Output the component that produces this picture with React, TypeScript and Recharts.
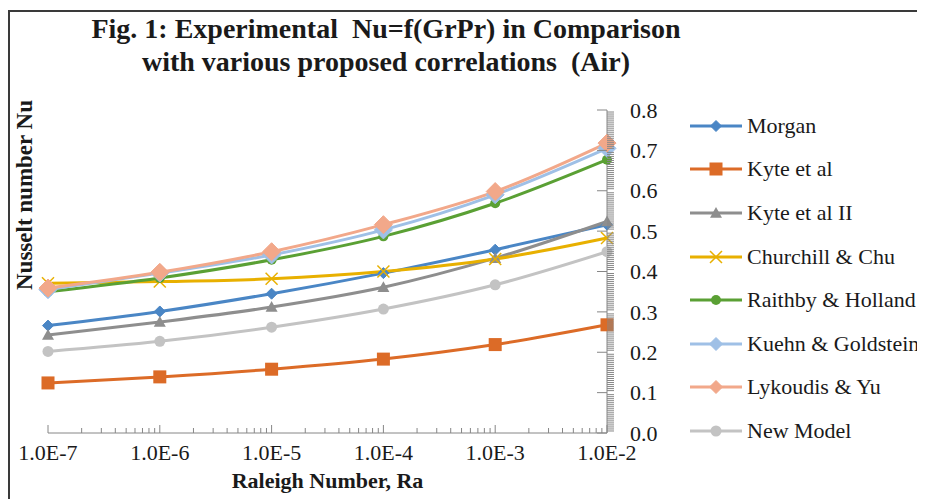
import React from "react";
import { LineChart, Line, XAxis, YAxis } from "recharts";

const raleigh = [1e-7, 1e-6, 1e-5, 1e-4, 1e-3, 1e-2];
const xTickLabels = ["1.0E-7", "1.0E-6", "1.0E-5", "1.0E-4", "1.0E-3", "1.0E-2"];

const morgan = [0.266, 0.301, 0.345, 0.396, 0.454, 0.516];
const kyte = [0.124, 0.139, 0.158, 0.183, 0.219, 0.268];
const kyte2 = [0.243, 0.275, 0.312, 0.361, 0.433, 0.524];
const churchill = [0.371, 0.375, 0.382, 0.4, 0.431, 0.483];
const raithby = [0.35, 0.384, 0.429, 0.487, 0.569, 0.677];
const kuehn = [0.355, 0.396, 0.441, 0.503, 0.59, 0.705];
const lykoudis = [0.359, 0.398, 0.449, 0.516, 0.598, 0.718];
const newModel = [0.202, 0.227, 0.262, 0.307, 0.367, 0.449];

const yTickLabels = ["0.0", "0.1", "0.2", "0.3", "0.4", "0.5", "0.6", "0.7", "0.8"];

const series = [
  { key: "morgan", name: "Morgan", values: morgan, color: "#4a86c5", shape: "diamond", size: 5.5 },
  { key: "kyte", name: "Kyte et al", values: kyte, color: "#dc6b27", shape: "square", size: 6.5 },
  { key: "kyte2", name: "Kyte et al II", values: kyte2, color: "#8e8e8e", shape: "triangle", size: 6 },
  { key: "churchill", name: "Churchill & Chu", values: churchill, color: "#e8b000", shape: "cross", size: 6 },
  { key: "raithby", name: "Raithby & Holland", values: raithby, color: "#5aa034", shape: "circle", size: 5 },
  { key: "kuehn", name: "Kuehn & Goldstein", values: kuehn, color: "#9fc0e6", shape: "diamond", size: 9 },
  { key: "lykoudis", name: "Lykoudis & Yu", values: lykoudis, color: "#f2a88a", shape: "diamond", size: 9 },
  { key: "newModel", name: "New Model", values: newModel, color: "#c3c3c3", shape: "circle", size: 5.5 },
];

const data = raleigh.map((ra, i) => {
  const row: any = { ra };
  series.forEach((s) => (row[s.key] = s.values[i]));
  return row;
});

// minor ticks 2..9 per decade, and every 0.005 on the value axis
const xTicks: number[] = [];
raleigh.forEach((d, i) => {
  xTicks.push(d);
  if (i < raleigh.length - 1) for (let k = 2; k <= 9; k++) xTicks.push(d * k);
});
const yTicks = Array.from({ length: 161 }, (_, i) => i / 200);

const AXIS = "#868686";
const TEXT = "#1a1a1a";
const FONT = '"Liberation Serif", "Times New Roman", serif';

function marker(shape: string, cx: number, cy: number, s: number, color: string, key?: any) {
  if (shape === "diamond")
    return <polygon key={key} points={`${cx},${cy - s} ${cx + s},${cy} ${cx},${cy + s} ${cx - s},${cy}`} fill={color} stroke={color} />;
  if (shape === "square")
    return <rect key={key} x={cx - s} y={cy - s} width={2 * s} height={2 * s} fill={color} />;
  if (shape === "triangle")
    return <polygon key={key} points={`${cx},${cy - s} ${cx + s},${cy + s * 0.8} ${cx - s},${cy + s * 0.8}`} fill={color} />;
  if (shape === "cross")
    return (
      <g key={key} stroke={color} strokeWidth={1.5}>
        <line x1={cx - s} y1={cy - s} x2={cx + s} y2={cy + s} />
        <line x1={cx - s} y1={cy + s} x2={cx + s} y2={cy - s} />
      </g>
    );
  return <circle key={key} cx={cx} cy={cy} r={s} fill={color} />;
}

const XTick = (props: any) => {
  const { x, y, payload } = props;
  const idx = raleigh.findIndex((d) => Math.abs(d - payload.value) / d < 1e-6);
  const major = idx >= 0;
  return (
    <g>
      <line x1={x} x2={x} y1={y} y2={y - (major ? 8 : 5)} stroke={AXIS} />
      {major && (
        <text x={x} y={y + 27} textAnchor="middle" fontSize={22} fill={TEXT}>
          {xTickLabels[idx]}
        </text>
      )}
    </g>
  );
};

const YTick = (props: any) => {
  const { x, y, payload } = props;
  const step = Math.round(payload.value * 200);
  const major = step % 20 === 0;
  return (
    <g>
      {major ? (
        <line x1={x - 10} x2={x} y1={y} y2={y} stroke={AXIS} />
      ) : (
        <line x1={x} x2={x + 7} y1={y} y2={y} stroke={AXIS} />
      )}
      {major && (
        <text x={x + 23} y={y} dy="0.35em" textAnchor="start" fontSize={22} fill={TEXT}>
          {yTickLabels[step / 20]}
        </text>
      )}
    </g>
  );
};

export default function App() {
  return (
    <div
      style={{
        position: "relative",
        width: 915,
        height: 487,
        marginTop: 2,
        borderLeft: "2px solid #3a3a3a",
        borderTop: "2px solid #3a3a3a",
        background: "#fff",
        fontFamily: FONT,
        color: TEXT,
      }}
    >
      <div
        style={{
          position: "absolute",
          left: 0,
          top: 0,
          width: 752,
          textAlign: "center",
          fontWeight: "bold",
          fontSize: 28,
          lineHeight: "33px",
          whiteSpace: "pre",
        }}
      >
        <div>{"Fig. 1: Experimental  Nu=f(GrPr) in Comparison"}</div>
        <div>{"with various proposed correlations  (Air)"}</div>
      </div>
      <div
        style={{
          position: "absolute",
          left: 15,
          top: 183,
          transform: "translate(-50%, -50%) rotate(-90deg)",
          fontWeight: "bold",
          fontSize: 23,
          whiteSpace: "nowrap",
        }}
      >
        Nusselt number Nu
      </div>
      <LineChart
        width={915}
        height={487}
        data={data}
        margin={{ top: 98, right: 258, left: 38, bottom: 6 }}
        style={{ fontFamily: FONT }}
      >
        <XAxis
          dataKey="ra"
          type="number"
          scale="log"
          domain={[1e-7, 1e-2]}
          ticks={xTicks}
          interval={0}
          tickSize={0}
          tickMargin={0}
          tickLine={false}
          tick={<XTick />}
          stroke={AXIS}
          height={60}
          label={{
            value: "Raleigh Number, Ra",
            position: "insideBottom",
            offset: 5,
            fontSize: 22,
            fontWeight: "bold",
            fill: TEXT,
          }}
        />
        <YAxis
          orientation="right"
          type="number"
          domain={[0, 0.8]}
          ticks={yTicks}
          interval={0}
          tickSize={0}
          tickMargin={0}
          tickLine={false}
          tick={<YTick />}
          stroke={AXIS}
          width={60}
        />
        {series.map((s) => (
          <Line
            key={s.key}
            dataKey={s.key}
            name={s.name}
            type="monotone"
            stroke={s.color}
            strokeWidth={3}
            isAnimationActive={false}
            dot={(p: any) => marker(s.shape, p.cx, p.cy, s.size, s.color, `${s.key}-${p.index}`)}
            activeDot={false}
          />
        ))}
      </LineChart>
      <div style={{ position: "absolute", left: 680, top: 92, width: 240 }}>
        {series.map((s) => (
          <div key={s.key} style={{ display: "flex", alignItems: "center", height: 43.6 }}>
            <svg width={57} height={22}>
              <line x1={0} x2={52} y1={11} y2={11} stroke={s.color} strokeWidth={3} />
              {marker(s.shape, 26, 11, Math.min(s.size, 6.5), s.color)}
            </svg>
            <span style={{ fontSize: 22, whiteSpace: "nowrap" }}>{s.name}</span>
          </div>
        ))}
      </div>
    </div>
  );
}
